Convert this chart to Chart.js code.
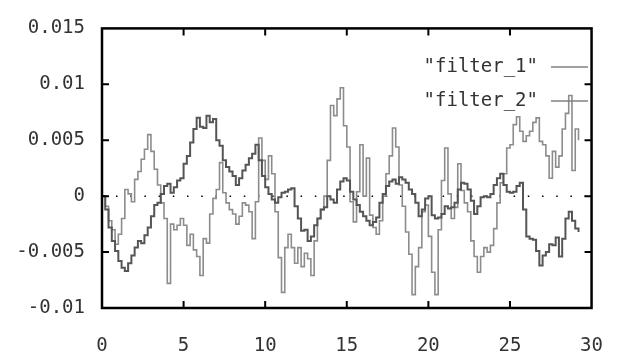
<!DOCTYPE html>
<html>
<head>
<meta charset="utf-8">
<script src="https://cdn.jsdelivr.net/npm/chart.js@4/dist/chart.umd.min.js"></script>
<style>
  html, body { margin: 0; padding: 0; background: #fff; }
  #wrap { width: 630px; height: 358px; }
</style>
</head>
<body>
<div id="wrap"><canvas id="plot" width="630" height="358"></canvas></div>
<script>
// sample times (x axis)
const times = [
  0, 0.2, 0.4, 0.6, 0.8, 1, 1.2, 1.4, 1.6, 1.8,
  2, 2.2, 2.4, 2.6, 2.8, 3, 3.2, 3.4, 3.6, 3.8,
  4, 4.2, 4.4, 4.6, 4.8, 5, 5.2, 5.4, 5.6, 5.8,
  6, 6.2, 6.4, 6.6, 6.8, 7, 7.2, 7.4, 7.6, 7.8,
  8, 8.2, 8.4, 8.6, 8.8, 9, 9.2, 9.4, 9.6, 9.8,
  10, 10.2, 10.4, 10.6, 10.8, 11, 11.2, 11.4, 11.6, 11.8,
  12, 12.2, 12.4, 12.6, 12.8, 13, 13.2, 13.4, 13.6, 13.8,
  14, 14.2, 14.4, 14.6, 14.8, 15, 15.2, 15.4, 15.6, 15.8,
  16, 16.2, 16.4, 16.6, 16.8, 17, 17.2, 17.4, 17.6, 17.8,
  18, 18.2, 18.4, 18.6, 18.8, 19, 19.2, 19.4, 19.6, 19.8,
  20, 20.2, 20.4, 20.6, 20.8, 21, 21.2, 21.4, 21.6, 21.8,
  22, 22.2, 22.4, 22.6, 22.8, 23, 23.2, 23.4, 23.6, 23.8,
  24, 24.2, 24.4, 24.6, 24.8, 25, 25.2, 25.4, 25.6, 25.8,
  26, 26.2, 26.4, 26.6, 26.8, 27, 27.2, 27.4, 27.6, 27.8,
  28, 28.2, 28.4, 28.6, 28.8, 29, 29.2
];

const filter1 = [
  0, -0.0012, -0.0028, -0.0040, -0.0049, -0.0058, -0.0064, -0.0067, -0.0060, -0.0053,
  -0.0046, -0.0040, -0.0042, -0.0035, -0.0028, -0.0018, -0.0008, -0.0006, 0.0002, 0.0009,
  0.0011, 0.0003, 0.0008, 0.0014, 0.0016, 0.0029, 0.0036, 0.0048, 0.0060, 0.0070,
  0.0062, 0.0061, 0.0072, 0.0066, 0.0069, 0.0050, 0.0045, 0.0032, 0.0026, 0.0022,
  0.0018, 0.0010, 0.0016, 0.0023, 0.0028, 0.0034, 0.0038, 0.0046, 0.0032, 0.0018,
  0.0008, 0.0002, -0.0003, -0.0006, -0.0001, 0.0003, 0.0004, 0.0006, 0.0007, -0.0009,
  -0.0020, -0.0031, -0.0030, -0.0040, -0.0036, -0.0026, -0.0020, -0.0012, -0.0010, 0.0000,
  -0.0003, -0.0006, 0.0006, 0.0013, 0.0016, 0.0014, 0.0004, -0.0003, -0.0008, -0.0014,
  -0.0018, -0.0022, -0.0026, -0.0023, -0.0019, -0.0006, 0.0002, 0.0009, 0.0013, 0.0015,
  0.0011, 0.0017, 0.0015, 0.0012, 0.0006, 0.0002, -0.0006, -0.0018, -0.0012, -0.0002,
  0.0000, -0.0017, -0.0020, -0.0019, -0.0016, -0.0009, -0.0011, -0.0010, -0.0006, 0.0006,
  0.0012, 0.0011, 0.0006, -0.0004, -0.0016, -0.0009, -0.0001, 0.0000, -0.0001, 0.0002,
  0.0010, 0.0016, 0.0020, 0.0010, 0.0004, 0.0003, 0.0004, 0.0009, 0.0012, -0.0012,
  -0.0036, -0.0038, -0.0039, -0.0049, -0.0062, -0.0053, -0.0050, -0.0043, -0.0044, -0.0037,
  -0.0054, -0.0038, -0.0020, -0.0014, -0.0022, -0.0029, -0.0032
];

const filter2 = [
  0, -0.0009, -0.0022, -0.0030, -0.0043, -0.0034, -0.0020, 0.0006, 0.0002, -0.0005,
  0.0015, 0.0022, 0.0033, 0.0042, 0.0055, 0.0040, 0.0024, 0.0010, -0.0006, -0.0020,
  -0.0078, -0.0025, -0.0030, -0.0026, -0.0020, -0.0026, -0.0044, -0.0034, -0.0048, -0.0054,
  -0.0071, -0.0038, -0.0042, -0.0016, -0.0002, 0.0006, 0.0030, 0.0003, -0.0006, -0.0012,
  -0.0016, -0.0025, -0.0018, -0.0006, -0.0008, -0.0014, -0.0038, -0.0005, 0.0052, 0.0032,
  0.0015, 0.0036, 0.0020, -0.0014, -0.0055, -0.0086, -0.0046, -0.0034, -0.0046, -0.0060,
  -0.0046, -0.0063, -0.0051, -0.0056, -0.0071, -0.0040, -0.0020, -0.0012, 0.0000, 0.0032,
  0.0081, 0.0072, 0.0087, 0.0097, 0.0063, 0.0044, -0.0005, -0.0023, 0.0004, 0.0046,
  0.0000, 0.0034, -0.0017, -0.0028, -0.0034, -0.0022, 0.0000, 0.0020, 0.0036, 0.0061,
  0.0044, 0.0010, -0.0009, -0.0032, -0.0052, -0.0088, -0.0063, -0.0046, -0.0014, -0.0008,
  -0.0036, -0.0068, -0.0088, -0.0030, 0.0014, 0.0043, 0.0002, -0.0020, -0.0010, 0.0029,
  0.0005, -0.0006, -0.0014, -0.0040, -0.0054, -0.0068, -0.0054, -0.0046, -0.0050, -0.0044,
  -0.0029, -0.0006, 0.0012, 0.0020, 0.0043, 0.0046, 0.0064, 0.0071, 0.0058, 0.0049,
  0.0054, 0.0058, 0.0066, 0.0070, 0.0049, 0.0046, 0.0036, 0.0016, 0.0040, 0.0026,
  0.0036, 0.0060, 0.0074, 0.0090, 0.0023, 0.0060, 0.0050
];

const seriesNames = ['"filter_1"', '"filter_2"'];
const xTicks = [0, 5, 10, 15, 20, 25, 30];
const yTicks = [-0.01, -0.005, 0, 0.005, 0.01, 0.015];

const FONT = { family: "'DejaVu Sans Mono', monospace", size: 19 };
const TEXT = '#333';

// gnuplot-like frame, inward ticks, dotted zero axis and key
const gnuplotLook = {
  id: 'gnuplotLook',
  beforeDatasetsDraw(chart) {
    const { ctx, chartArea: a, scales } = chart;
    const y0 = scales.y.getPixelForValue(0);
    ctx.save();
    ctx.strokeStyle = '#000';
    ctx.lineWidth = 1.5;
    ctx.setLineDash([1.5, 12.7]);
    ctx.beginPath();
    ctx.moveTo(a.left + 14, y0);
    ctx.lineTo(a.right, y0);
    ctx.stroke();
    ctx.restore();
  },
  afterDatasetsDraw(chart) {
    const { ctx, chartArea: a, scales } = chart;
    ctx.save();
    ctx.strokeStyle = '#000';
    ctx.lineWidth = 2.5;
    ctx.strokeRect(a.left, a.top, a.right - a.left, a.bottom - a.top);
    ctx.lineWidth = 2;
    ctx.beginPath();
    xTicks.slice(1, -1).forEach(v => {
      const px = scales.x.getPixelForValue(v);
      ctx.moveTo(px, a.bottom); ctx.lineTo(px, a.bottom - 7);
      ctx.moveTo(px, a.top); ctx.lineTo(px, a.top + 7);
    });
    yTicks.slice(1, -1).forEach(v => {
      const py = scales.y.getPixelForValue(v);
      ctx.moveTo(a.left, py); ctx.lineTo(a.left + 7, py);
      ctx.moveTo(a.right, py); ctx.lineTo(a.right - 7, py);
    });
    ctx.stroke();

    // key
    ctx.font = FONT.size + 'px ' + FONT.family;
    ctx.textAlign = 'right';
    ctx.textBaseline = 'middle';
    chart.data.datasets.forEach((ds, i) => {
      const yy = 67 + i * 34;
      ctx.fillStyle = TEXT;
      ctx.fillText(ds.label, 538, yy);
      ctx.strokeStyle = '#808080';
      ctx.lineWidth = 1.5;
      ctx.beginPath();
      ctx.moveTo(551, yy);
      ctx.lineTo(588, yy);
      ctx.stroke();
    });
    ctx.restore();
  }
};

const pts = vals => times.map((t, i) => ({ x: t, y: vals[i] }));

new Chart(document.getElementById('plot'), {
  type: 'line',
  data: {
    datasets: [
      { label: seriesNames[0], data: pts(filter1), borderColor: '#555', borderWidth: 2,
        pointRadius: 0, stepped: true, fill: false },
      { label: seriesNames[1], data: pts(filter2), borderColor: '#8c8c8c', borderWidth: 1.6,
        pointRadius: 0, stepped: true, fill: false }
    ]
  },
  options: {
    responsive: false,
    animation: false,
    devicePixelRatio: 1,
    layout: { padding: { top: 20, right: 22, left: 0, bottom: 0 } },
    plugins: { legend: { display: false }, tooltip: { enabled: false } },
    scales: {
      x: {
        type: 'linear', min: 0, max: 30,
        afterBuildTicks: s => { s.ticks = xTicks.map(v => ({ value: v })); },
        afterFit: s => { s.height = 50; },
        grid: { display: false, drawTicks: false },
        border: { display: false },
        ticks: { font: FONT, color: TEXT, padding: 27, maxRotation: 0 }
      },
      y: {
        type: 'linear', min: -0.01, max: 0.015,
        afterBuildTicks: s => { s.ticks = yTicks.map(v => ({ value: v })); },
        afterFit: s => { s.width = 102; },
        grid: { display: false, drawTicks: false },
        border: { display: false },
        ticks: { font: FONT, color: TEXT, padding: 17, callback: v => String(+v.toFixed(3)) }
      }
    }
  },
  plugins: [gnuplotLook]
});
</script>
</body>
</html>
